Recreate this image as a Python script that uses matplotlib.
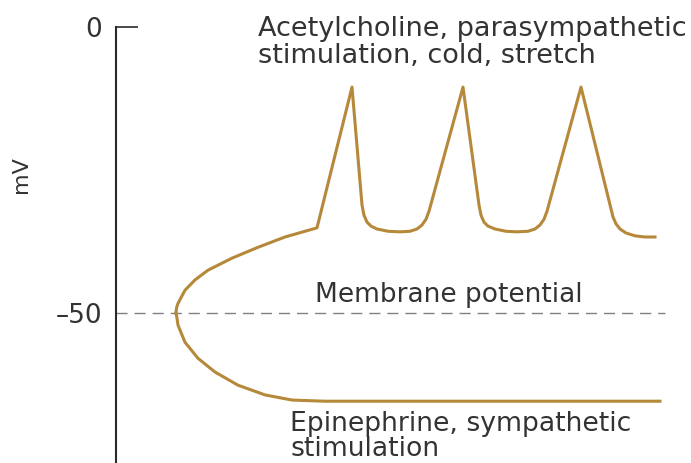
import matplotlib
matplotlib.use("Agg")
import matplotlib.pyplot as plt

plt.rcParams['font.family'] = ['DejaVu Sans']

# ---- data (time in arbitrary units, potential in mV) ----
ach_t = [60, 60.5, 62, 69, 79, 92, 116, 142, 169, 201,
         236,
         246, 248, 251, 255, 261, 272, 284, 294, 301, 306, 310, 313,
         347,
         363, 365, 368, 372, 379, 390, 401, 412, 419, 424, 428, 431,
         465,
         497, 500, 504, 510, 519, 529, 539]
ach_v = [-50.0, -49.1, -48.3, -46.0, -44.2, -42.5, -40.4, -38.5, -36.7, -35.1,
         -10.5,
         -31.1, -32.9, -34.1, -34.8, -35.3, -35.7, -35.8, -35.7, -35.3, -34.6, -33.6, -32.2,
         -10.5,
         -31.1, -32.9, -34.1, -34.8, -35.3, -35.7, -35.8, -35.7, -35.3, -34.6, -33.6, -32.2,
         -10.5,
         -33.2, -34.4, -35.3, -36.0, -36.5, -36.7, -36.7]
epi_t = [60, 61, 62, 69, 82, 99, 122, 149, 176, 209, 544]
epi_v = [-50.0, -50.9, -52.1, -55.1, -57.9, -60.3, -62.6, -64.3, -65.2, -65.4, -65.4]
membrane_v = -50
membrane_t_end = 549
ytick_vals = [0, -50]
ytick_labels = ['0', '\u201350']

curve_color = '#B6893A'
text_color = '#333333'

fig = plt.figure(figsize=(6.91, 4.63), dpi=100)
ax = fig.add_axes([116 / 691, 0, 575 / 691, 1])
ax.set_xlim(0, 575)
ax.set_ylim(-76.2, 4.72)

for s in ['top', 'right', 'bottom']:
    ax.spines[s].set_visible(False)
ax.spines['left'].set_bounds(-76.2, 0)
ax.spines['left'].set_linewidth(1.5)
ax.spines['left'].set_color('#2a2a2a')

ax.set_xticks([])
ax.set_yticks(ytick_vals)
ax.set_yticklabels(ytick_labels, fontsize=19, color=text_color)
ax.tick_params(axis='y', direction='in', length=16, width=1.2, color='#2a2a2a', pad=10)
ax.yaxis.get_major_ticks()[1].tick1line.set_visible(False)

ax.hlines(membrane_v, 0, membrane_t_end, colors='#808080', linewidth=1.0,
          linestyles=(0, (8, 5)))

ax.plot(ach_t, ach_v, color=curve_color, linewidth=2.2, solid_joinstyle='round')
ax.plot(epi_t, epi_v, color=curve_color, linewidth=2.2, solid_joinstyle='round')

ax.text(142, -6.3, 'Acetylcholine, parasympathetic\nstimulation, cold, stretch',
        fontsize=19.5, color=text_color, va='baseline', ha='left', linespacing=1.05)
ax.text(199, -48.1, 'Membrane potential', fontsize=19, color=text_color,
        va='baseline', ha='left')
ax.text(174, -74.9, 'Epinephrine, sympathetic\nstimulation', fontsize=19.2,
        color=text_color, va='baseline', ha='left', linespacing=0.95)

fig.text(21 / 691, 1 - 175 / 463, 'mV', rotation=90, fontsize=16, color=text_color,
         ha='center', va='center')

fig.savefig('out.png', dpi=100)
